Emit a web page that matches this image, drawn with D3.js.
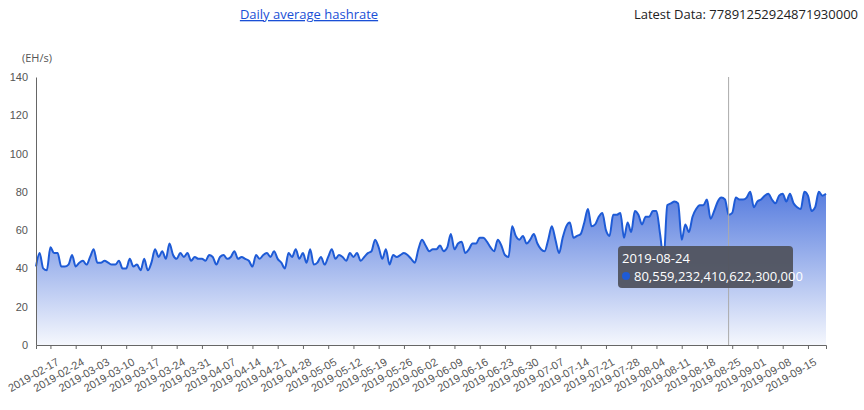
<!DOCTYPE html>
<html><head><meta charset="utf-8">
<script src="https://cdn.jsdelivr.net/npm/d3@7"></script>
<style>
body{margin:0;background:#fff;font-family:"Open Sans","DejaVu Sans",sans-serif}
</style></head><body>
<svg id="c" width="864" height="410"></svg>
<script>
const startDate = "2019-02-13";
// daily average hashrate, EH/s
const hashrate = [
  41,48,40,39,51,48,48, 41,41,42,47,41,43,44,
  42,46,50,43,43,44,43, 42,42,44,40,40,45,41,
  42,39,45,39,43,50,46, 49,45,53,47,45,48,46,
  48,44,46,45,45,44,47, 46,42,46,47,45,46,49,
  45,46,45,44,41,47,45, 47,48,46,49,45,43,40,
  48,46,50,45,48,43,50, 42,43,46,42,46,50,45,
  47,46,44,48,46,48,44, 46,48,49,55,51,45,50,
  42,47,46,47,48,47,45, 43,50,55,52,49,50,50,
  52,49,51,58,50,53,54, 48,50,53,53,56,56,54,
  51,49,55,52,47,46,62,  57,55,57,53,55,58,53,
  50,49,55,62,55,48,56, 62,64,56,57,58,64,71,
  62,63,67,69,60,57,68, 68,69,56,64,59,70,68,
  63,67,67,70,70,58,45, 73,74,75,74,55,63,59,
  67,71,73,73,76,66,70, 75,77,76,68,69,77,76,
  76,77,80,72,75,76,78, 79,76,74,78,79,75,79,
  74,72,71,80,78,70,72, 80,78,79
];
const latest = "77891252924871930000";
const tipDate = "2019-08-24";
const tipValue = "80,559,232,410,622,300,000";
const yTicks = [0,20,40,60,80,100,120,140];

const parse = d3.timeParse("%Y-%m-%d");
const fmt = d3.timeFormat("%Y-%m-%d");
const t0 = parse(startDate);
const data = hashrate.map((v,i)=>({date:d3.timeDay.offset(t0,i), v}));

const svg = d3.select("#c");
const m = {l:36, r:38, t:77, b:65};
const W = 864, H = 410;
const x = d3.scaleTime().domain(d3.extent(data,d=>d.date)).range([m.l, W-m.r]);
const y = d3.scaleLinear().domain([0,140]).range([H-m.b, m.t]);

const grad = svg.append("defs").append("linearGradient").attr("id","g").attr("x1",0).attr("x2",0).attr("y1",0).attr("y2",1);
grad.append("stop").attr("offset","0%").attr("stop-color","#3a66d9").attr("stop-opacity",0.85);
grad.append("stop").attr("offset","100%").attr("stop-color","#3a66d9").attr("stop-opacity",0.05);

// area + line
svg.append("path").datum(data).attr("fill","url(#g)")
  .attr("d", d3.area().curve(d3.curveMonotoneX).x(d=>x(d.date)).y0(y(0)).y1(d=>y(d.v)));
svg.append("path").datum(data).attr("fill","none").attr("stroke","#1e5bd6").attr("stroke-width",2)
  .attr("d", d3.line().curve(d3.curveMonotoneX).x(d=>x(d.date)).y(d=>y(d.v)));

// y axis
const ya = svg.append("g").attr("transform",`translate(${m.l},0)`)
  .call(d3.axisLeft(y).tickValues(yTicks).tickSize(0).tickPadding(8));
ya.select(".domain").attr("stroke","#666");
ya.selectAll("text").attr("fill","#555").style("font-size","11px");
svg.append("text").attr("x",22).attr("y",62).attr("fill","#555").style("font-size","11px").text("(EH/s)");

// x axis
const weekly = d3.timeDay.every(1).range(parse("2019-02-17"), d3.timeDay.offset(x.domain()[1],1)).filter((d,i)=>i%7===0);
const xa = svg.append("g").attr("transform",`translate(0,${y(0)})`)
  .call(d3.axisBottom(x).tickValues(weekly).tickFormat(fmt).tickSize(4));
xa.select(".domain").attr("stroke","#666");
xa.selectAll("line").attr("stroke","#666");
xa.selectAll("text").attr("fill","#555").style("font-size","11px")
  .attr("text-anchor","end").attr("transform","rotate(-30)").attr("dx","-2").attr("dy","14");

// hover line + tooltip
const tx = x(parse(tipDate));
svg.append("line").attr("x1",tx).attr("x2",tx).attr("y1",m.t).attr("y2",y(0)).attr("stroke","#aaa").attr("stroke-width",1);
const tip = svg.append("g").attr("transform","translate(618,246)");
tip.append("rect").attr("width",175).attr("height",42).attr("rx",4).attr("fill","#50535f").attr("opacity",0.95);
tip.append("text").attr("x",4).attr("y",17).attr("fill","#fff").style("font-size","13px").text(tipDate);
tip.append("circle").attr("cx",8).attr("cy",30).attr("r",4).attr("fill","#1e5bd6");
tip.append("text").attr("x",16).attr("y",35).attr("fill","#fff").style("font-size","13px").text(tipValue);

// header
svg.append("text").attr("x",309).attr("y",19).attr("text-anchor","middle").attr("fill","#1a4fd6")
  .attr("text-decoration","underline").style("font-size","13px").text("Daily average hashrate");
svg.append("text").attr("x",858).attr("y",19).attr("text-anchor","end").attr("fill","#222")
  .style("font-size","13px").text("Latest Data: " + latest);
</script></body></html>
